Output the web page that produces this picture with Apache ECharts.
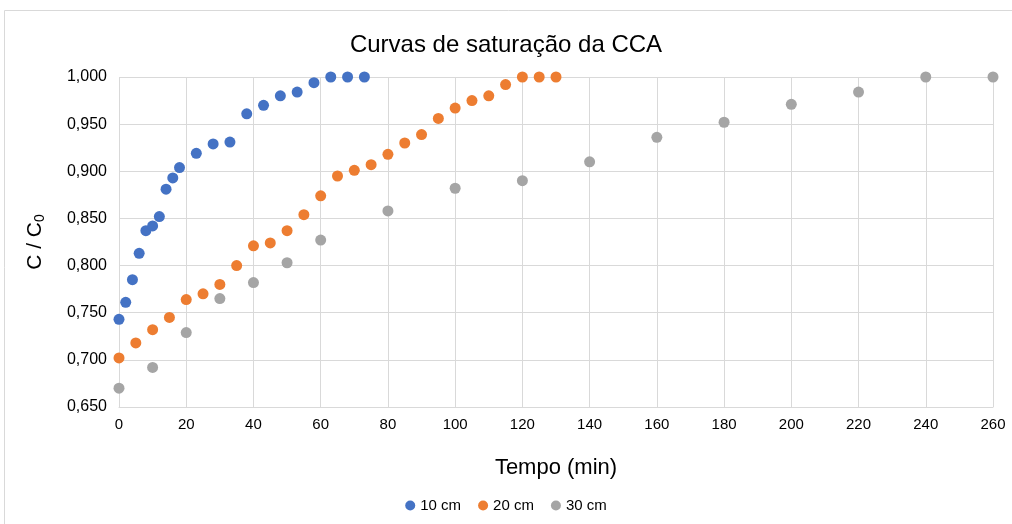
<!DOCTYPE html>
<html><head><meta charset="utf-8">
<script src="https://cdn.jsdelivr.net/npm/echarts@6/dist/echarts.min.js"></script>
<style>html,body{margin:0;padding:0;background:#fff}#c{width:1012px;height:524px}</style>
</head><body><div id="c"></div>
<script>
const x10 = [0,2,4,6,8,10,12,14,16,18,23,28,33,38,43,48,53,58,63,68,73];
const y10 = [0.743,0.761,0.785,0.813,0.837,0.842,0.852,0.881,0.893,0.904,0.919,0.929,0.931,0.961,0.970,0.980,0.984,0.994,1,1,1];
const x20 = [0,5,10,15,20,25,30,35,40,45,50,55,60,65,70,75,80,85,90,95,100,105,110,115,120,125,130];
const y20 = [0.702,0.718,0.732,0.745,0.764,0.770,0.780,0.800,0.821,0.824,0.837,0.854,0.874,0.895,0.901,0.907,0.918,0.930,0.939,0.956,0.967,0.975,0.980,0.992,1,1,1];
const x30 = [0,10,20,30,40,50,60,80,100,120,140,160,180,200,220,240,260];
const y30 = [0.670,0.692,0.729,0.765,0.782,0.803,0.827,0.858,0.882,0.890,0.910,0.936,0.952,0.971,0.984,1,1];
const seriesNames = ['10 cm','20 cm','30 cm'];
const colors = ['#4472C4','#ED7D31','#A5A5A5'];
const pair = (xs, ys) => xs.map((v,i)=>[v, ys[i]]);
const FONT = 'Liberation Sans';
const chart = echarts.init(document.getElementById('c'));
chart.setOption({
  animation:false,
  textStyle:{fontFamily:FONT},
  graphic:[{type:'rect',shape:{x:4.5,y:10.5,width:1020,height:530},style:{fill:'none',stroke:'#d9d9d9',lineWidth:1},z:-1}],
  title:{text:'Curvas de saturação da CCA',left:'center',top:28,textStyle:{fontFamily:FONT,fontSize:24,fontWeight:'normal',color:'#000'}},
  legend:{data:seriesNames,bottom:6,left:'center',icon:'circle',itemWidth:10,itemHeight:10,itemGap:17,textStyle:{fontFamily:FONT,fontSize:15,color:'#000'}},
  grid:{left:119,right:19,top:77,bottom:117,containLabel:false},
  xAxis:{type:'value',min:0,max:260,interval:20,name:'Tempo (min)',nameLocation:'middle',nameGap:50,
    nameTextStyle:{fontFamily:FONT,fontSize:22,color:'#000'},
    axisLine:{show:true,lineStyle:{color:'#d9d9d9'}},axisTick:{show:false},
    axisLabel:{fontFamily:FONT,fontSize:15,color:'#000',margin:10},
    splitLine:{show:true,lineStyle:{color:'#d9d9d9'}}},
  yAxis:{type:'value',min:0.65,max:1.0,interval:0.05,name:'C / C{s|0}',nameLocation:'middle',nameGap:72,nameRotate:90,
    nameTextStyle:{fontFamily:FONT,fontSize:21,color:'#000',rich:{s:{fontFamily:FONT,fontSize:14,color:'#000',verticalAlign:'bottom',padding:[9,0,0,0]}}},
    axisLine:{show:false},axisTick:{show:false},
    axisLabel:{fontFamily:FONT,fontSize:16,color:'#000',margin:12,formatter:v=>v.toFixed(3).replace('.',',')},
    splitLine:{show:true,lineStyle:{color:'#d9d9d9'}}},
  series:[
    {name:seriesNames[0],type:'scatter',data:pair(x10,y10),symbolSize:11,itemStyle:{color:colors[0],opacity:1}},
    {name:seriesNames[1],type:'scatter',data:pair(x20,y20),symbolSize:11,itemStyle:{color:colors[1],opacity:1}},
    {name:seriesNames[2],type:'scatter',data:pair(x30,y30),symbolSize:11,itemStyle:{color:colors[2],opacity:1}}
  ]
});
</script></body></html>
